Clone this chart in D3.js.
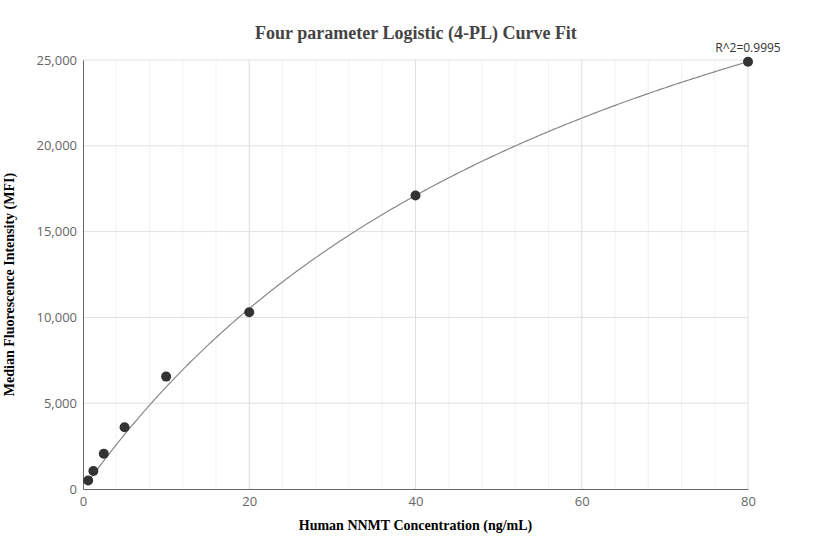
<!DOCTYPE html>
<html>
<head>
<meta charset="utf-8">
<script src="https://d3js.org/d3.v7.min.js"></script>
<style>
  body { margin: 0; background: #fff; }
  .tick text { font-family: "Open Sans", sans-serif; font-size: 13px; fill: #666; }
</style>
</head>
<body>
<svg id="chart" width="832" height="560"></svg>
<script>
const conc = [0.625, 1.25, 2.5, 5, 10, 20, 40, 80];
const mfi = [500, 1050, 2050, 3600, 6550, 10300, 17100, 24900];
const xTicks = [0, 20, 40, 60, 80];
const yTicks = [0, 5000, 10000, 15000, 20000, 25000];
// fitted 4PL parameters
const fitA = 0, fitB = 1, fitC = 67, fitD = 45750;

const svg = d3.select('#chart');
const mLeft = 83, mRight = 748, mTop = 60, mBottom = 489;
const x = d3.scaleLinear().domain([0, 80]).range([mLeft, mRight]);
const y = d3.scaleLinear().domain([0, 25000]).range([mBottom, mTop]);

// minor vertical grid
svg.append('g').selectAll('line').data(d3.range(4, 80, 4))
  .join('line')
  .attr('x1', d => x(d)).attr('x2', d => x(d))
  .attr('y1', mTop).attr('y2', mBottom)
  .attr('stroke', '#f2f2f2');
// major grid
svg.append('g').selectAll('line').data(xTicks.slice(1))
  .join('line')
  .attr('x1', d => x(d)).attr('x2', d => x(d))
  .attr('y1', mTop).attr('y2', mBottom)
  .attr('stroke', '#e0e0e0');
svg.append('g').selectAll('line').data(yTicks.slice(1))
  .join('line')
  .attr('x1', mLeft).attr('x2', mRight)
  .attr('y1', d => y(d)).attr('y2', d => y(d))
  .attr('stroke', '#e0e0e0');

const xAxis = svg.append('g').attr('transform', `translate(0,${mBottom})`)
  .call(d3.axisBottom(x).tickValues(xTicks).tickSize(0).tickPadding(8));
const yAxis = svg.append('g').attr('transform', `translate(${mLeft},0)`)
  .call(d3.axisLeft(y).tickValues(yTicks).tickSize(0).tickPadding(6).tickFormat(d3.format(',')));
[xAxis, yAxis].forEach(a => a.select('.domain').attr('stroke', '#666'));

// fit curve
const curveX = d3.range(0.625, 80.01, 0.25);
const fit = v => fitD + (fitA - fitD) / (1 + Math.pow(v / fitC, fitB));
svg.append('path')
  .datum(curveX)
  .attr('fill', 'none')
  .attr('stroke', '#888')
  .attr('stroke-width', 1.2)
  .attr('d', d3.line().x(d => x(d)).y(d => y(fit(d))));

svg.append('g').selectAll('circle').data(conc)
  .join('circle')
  .attr('cx', d => x(d))
  .attr('cy', (d, i) => y(mfi[i]))
  .attr('r', 5)
  .attr('fill', '#333');

svg.append('text')
  .attr('x', x(80)).attr('y', 52)
  .attr('text-anchor', 'middle')
  .style('font-family', '"Open Sans", sans-serif').style('font-size', '12px').attr('fill', '#333')
  .text('R^2=0.9995');

svg.append('text')
  .attr('x', 416).attr('y', 39)
  .attr('text-anchor', 'middle')
  .style('font-family', '"Liberation Serif", serif').style('font-weight', 'bold').style('font-size', '18px')
  .attr('fill', '#444')
  .text('Four parameter Logistic (4-PL) Curve Fit');

svg.append('text')
  .attr('x', (mLeft + mRight) / 2).attr('y', 530)
  .attr('text-anchor', 'middle')
  .style('font-family', '"Liberation Serif", serif').style('font-weight', 'bold').style('font-size', '14px')
  .text('Human NNMT Concentration (ng/mL)');

svg.append('text')
  .attr('transform', `translate(14,${(mTop + mBottom) / 2 + 10}) rotate(-90)`)
  .attr('text-anchor', 'middle')
  .style('font-family', '"Liberation Serif", serif').style('font-weight', 'bold').style('font-size', '14px')
  .text('Median Fluorescence Intensity (MFI)');
</script>
</body>
</html>
